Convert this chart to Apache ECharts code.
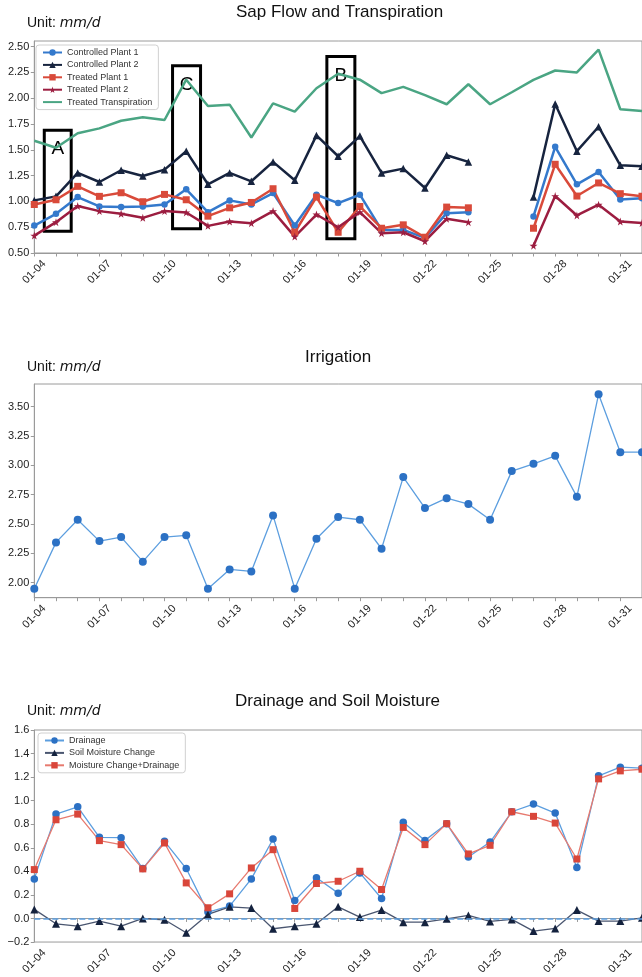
<!DOCTYPE html>
<html>
<head>
<meta charset="utf-8">
<script src="https://cdn.jsdelivr.net/npm/echarts@6/dist/echarts.min.js"></script>
<style>
  html, body { margin: 0; padding: 0; background: #fff; }
  #main { width: 642px; height: 977px; }
</style>
</head>
<body>
<div id="main"></div>
<script>
// dates, day 0 = 01-04 ; the last one (02-01) falls just past the right edge
var dates = ['01-04','01-05','01-06','01-07','01-08','01-09','01-10','01-11','01-12','01-13',
  '01-14','01-15','01-16','01-17','01-18','01-19','01-20','01-21','01-22','01-23',
  '01-24','01-25','01-26','01-27','01-28','01-29','01-30','01-31','02-01'];

// sap flow (mm/d)
var controlled1 = [0.766,0.88,1.042,0.951,0.945,0.951,0.97,1.117,0.896,1.01,0.97,1.081,0.766,1.065,0.984,1.065,0.724,0.724,0.646,0.886,0.896,null,null,0.854,1.529,1.166,1.286,1.019,1.03];
var controlled2 = [1.01,1.049,1.276,1.188,1.302,1.247,1.308,1.487,1.166,1.276,1.195,1.383,1.205,1.64,1.438,1.633,1.276,1.318,1.13,1.448,1.383,null,null,1.042,1.945,1.487,1.724,1.35,1.34];
var treated1 = [0.97,1.016,1.146,1.049,1.084,0.997,1.068,1.016,0.857,0.938,0.99,1.123,0.701,1.042,0.701,0.951,0.74,0.773,0.653,0.945,0.938,null,null,0.74,1.36,1.052,1.179,1.075,1.05];
var treated2 = [0.669,0.799,0.955,0.906,0.88,0.841,0.906,0.893,0.763,0.805,0.789,0.906,0.659,0.873,0.75,0.896,0.692,0.701,0.614,0.831,0.799,null,null,0.571,1.052,0.864,0.968,0.805,0.79];
var transpiration = [1.588,1.52,1.66,1.708,1.782,1.815,1.789,2.18,1.925,1.938,1.62,1.951,1.87,2.097,2.237,2.18,2.05,2.11,2.03,1.942,2.136,1.942,2.058,2.178,2.269,2.25,2.471,1.893,1.877];

// irrigation (mm/d)
var irrigation = [1.949,2.343,2.536,2.354,2.388,2.179,2.388,2.403,1.949,2.113,2.096,2.573,1.949,2.374,2.559,2.536,2.289,2.899,2.635,2.72,2.669,2.536,2.95,3.012,3.08,2.731,3.605,3.111,3.111];

// drainage & soil moisture (mm/d)
var drainage = [0.336,0.886,0.948,0.689,0.686,0.424,0.655,0.424,0.054,0.105,0.336,0.675,0.153,0.345,0.215,0.387,0.17,0.816,0.663,0.805,0.522,0.649,0.906,0.971,0.895,0.432,1.211,1.284,1.276];
var soilChange = [0.077,-0.045,-0.065,-0.022,-0.065,0.0,-0.011,-0.121,0.034,0.099,0.088,-0.087,-0.065,-0.045,0.099,0.012,0.071,-0.031,-0.031,-0.003,0.026,-0.025,-0.008,-0.107,-0.084,0.071,-0.022,-0.022,0.006];
var changePlusDrain = [0.415,0.838,0.886,0.661,0.627,0.421,0.641,0.302,0.091,0.209,0.429,0.584,0.085,0.297,0.316,0.401,0.246,0.773,0.627,0.805,0.548,0.621,0.906,0.867,0.81,0.505,1.185,1.253,1.267];

// tick labels
var dateTicks = [0,3,6,9,12,15,18,21,24,27];
var sapTicks = [0.5,0.75,1.0,1.25,1.5,1.75,2.0,2.25,2.5];
var irrTicks = [2.0,2.25,2.5,2.75,3.0,3.25,3.5];
var drainTicks = [-0.2,0,0.2,0.4,0.6,0.8,1.0,1.2,1.4,1.6];

// boxed regions on the sap flow panel: [label, day from, day to, low, high]
var boxes = [['A',0.46,1.7,0.71,1.69],['C',6.37,7.66,0.735,2.314],['B',13.48,14.77,0.638,2.405]];

var FONT = 'Liberation Sans, Arial, sans-serif';
var STAR = 'path://M50,0 L61,35 L98,35 L68,57 L79,91 L50,70 L21,91 L32,57 L2,35 L39,35 Z';
var allDays = dates.map(function (d, i) { return i; });

function pairs(arr) {
    return arr.map(function (v, i) { return [i, v]; });
}

var myChart = echarts.init(document.getElementById('main'));

// 三个子图共用的坐标轴样式
function xAxisFor(gridIndex) {
    return {
        type: 'value', gridIndex: gridIndex, min: 0, max: 28,
        axisLine: { show: true, lineStyle: { color: '#9a9a9a', width: 1 } },
        axisTick: { show: true, length: 3.5, customValues: allDays, lineStyle: { color: '#9a9a9a' } },
        axisLabel: {
            customValues: dateTicks, rotate: 45, align: 'center', verticalAlign: 'middle', margin: 19,
            fontSize: 11, fontFamily: FONT, color: '#222',
            formatter: function (v) { return dates[Math.round(v)]; }
        },
        splitLine: { show: false }
    };
}
function yAxisFor(gridIndex, min, max, ticks, digits) {
    return {
        type: 'value', gridIndex: gridIndex, min: min, max: max,
        axisLine: { show: true, lineStyle: { color: '#9a9a9a', width: 1 } },
        axisTick: { show: true, length: 3.5, customValues: ticks, lineStyle: { color: '#9a9a9a' } },
        axisLabel: {
            customValues: ticks, margin: 5, fontSize: 11, fontFamily: FONT, color: '#222',
            formatter: function (v) { return v.toFixed(digits).replace('-', '\u2212'); }
        },
        splitLine: { show: false }
    };
}
function unitTitle(top) {
    return {
        text: '{a|Unit: }{b|mm/d}', left: 27, top: top, padding: 0,
        textStyle: { fontWeight: 'normal', rich: {
            a: { fontSize: 14, fontWeight: 'normal', fontFamily: FONT, color: '#111' },
            b: { fontSize: 14, fontWeight: 'normal', fontFamily: 'DejaVu Sans', fontStyle: 'italic', color: '#111' }
        } }
    };
}
function plainTitle(text, left, top) {
    return { text: text, left: left, top: top, padding: 0,
        textStyle: { fontSize: 17, fontWeight: 'normal', fontFamily: FONT, color: '#111' } };
}
function sapLine(name, data, color, symbol, size) {
    return {
        name: name, type: 'line', xAxisIndex: 0, yAxisIndex: 0, data: pairs(data),
        symbol: symbol, symbolSize: size, showSymbol: symbol !== 'none', connectNulls: false,
        itemStyle: { color: color }, lineStyle: { color: color, width: 2.5 }, clip: true,
        emphasis: { disabled: true }
    };
}
function thinLine(name, data, idx, color, lineColor, symbol, size) {
    return {
        name: name, type: 'line', xAxisIndex: idx, yAxisIndex: idx, data: pairs(data),
        symbol: symbol, symbolSize: size, itemStyle: { color: color },
        lineStyle: { color: lineColor, width: 1.3 }, clip: true,
        emphasis: { disabled: true }
    };
}

var legendBase = {
    orient: 'vertical', itemWidth: 19, itemHeight: 8, itemGap: 3.4,
    padding: [3, 6, 3, 6], backgroundColor: '#fff', borderColor: '#d0d0d0', borderWidth: 1, borderRadius: 3,
    textStyle: { fontSize: 9, fontFamily: FONT, color: '#333' }, selectedMode: false
};

var transSeries = sapLine('Treated Transpiration', transpiration, '#4aa583', 'none', 0);
transSeries.markArea = {
    silent: true,
    itemStyle: { color: 'rgba(0,0,0,0)', borderColor: '#000', borderWidth: 3 },
    label: { show: true, position: 'insideTop', distance: 11, fontSize: 19, fontFamily: FONT, color: '#000' },
    data: boxes.map(function (b) {
        return [{ name: b[0], xAxis: b[1], yAxis: b[4] }, { xAxis: b[2], yAxis: b[3] }];
    })
};

var option = {
    animation: false,
    backgroundColor: '#fff',
    title: [
        plainTitle('Sap Flow and Transpiration', 236, 4),
        unitTitle(16),
        plainTitle('Irrigation', 305, 349),
        unitTitle(360),
        plainTitle('Drainage and Soil Moisture', 235, 693),
        unitTitle(704)
    ],
    legend: [
        Object.assign({}, legendBase, { left: 36, top: 45,
            data: ['Controlled Plant 1', 'Controlled Plant 2', 'Treated Plant 1', 'Treated Plant 2',
                { name: 'Treated Transpiration', itemStyle: { opacity: 0 } }] }),
        Object.assign({}, legendBase, { left: 38, top: 733,
            data: ['Drainage', 'Soil Moisture Change', 'Moisture Change+Drainage'] })
    ],
    grid: [
        { left: 34.3, top: 41, width: 614, height: 212, show: true, borderColor: '#9a9a9a', borderWidth: 1 },
        { left: 34.3, top: 384, width: 614, height: 213.7, show: true, borderColor: '#9a9a9a', borderWidth: 1 },
        { left: 34.3, top: 730, width: 614, height: 212.5, show: true, borderColor: '#9a9a9a', borderWidth: 1 }
    ],
    xAxis: [xAxisFor(0), xAxisFor(1), xAxisFor(2)],
    yAxis: [
        yAxisFor(0, 0.5, 2.555, sapTicks, 2),
        yAxisFor(1, 1.872, 3.692, irrTicks, 2),
        yAxisFor(2, -0.2, 1.6, drainTicks, 1)
    ],
    series: [
        sapLine('Controlled Plant 1', controlled1, '#3479cc', 'circle', 6.5),
        sapLine('Controlled Plant 2', controlled2, '#17243f', 'triangle', 7.5),
        sapLine('Treated Plant 1', treated1, '#d94a3a', 'rect', 7),
        sapLine('Treated Plant 2', treated2, '#9c1d40', STAR, 8),
        transSeries,
        thinLine('Irrigation', irrigation, 1, '#2c71c4', '#5c9edf', 'circle', 8),
        thinLine('Drainage', drainage, 2, '#2c71c4', '#5c9edf', 'circle', 7.5),
        (function () {
            var s = thinLine('Soil Moisture Change', soilChange, 2, '#14223e', '#4a5670', 'triangle', 8);
            s.markLine = {
                silent: true, symbol: ['none', 'none'], label: { show: false },
                lineStyle: { color: '#5c9edf', type: 'dashed', width: 1.5 },
                data: [{ yAxis: 0 }]
            };
            return s;
        })(),
        thinLine('Moisture Change+Drainage', changePlusDrain, 2, '#d9463a', '#e77a6f', 'rect', 7)
    ]
};

myChart.setOption(option);
</script>
</body>
</html>
